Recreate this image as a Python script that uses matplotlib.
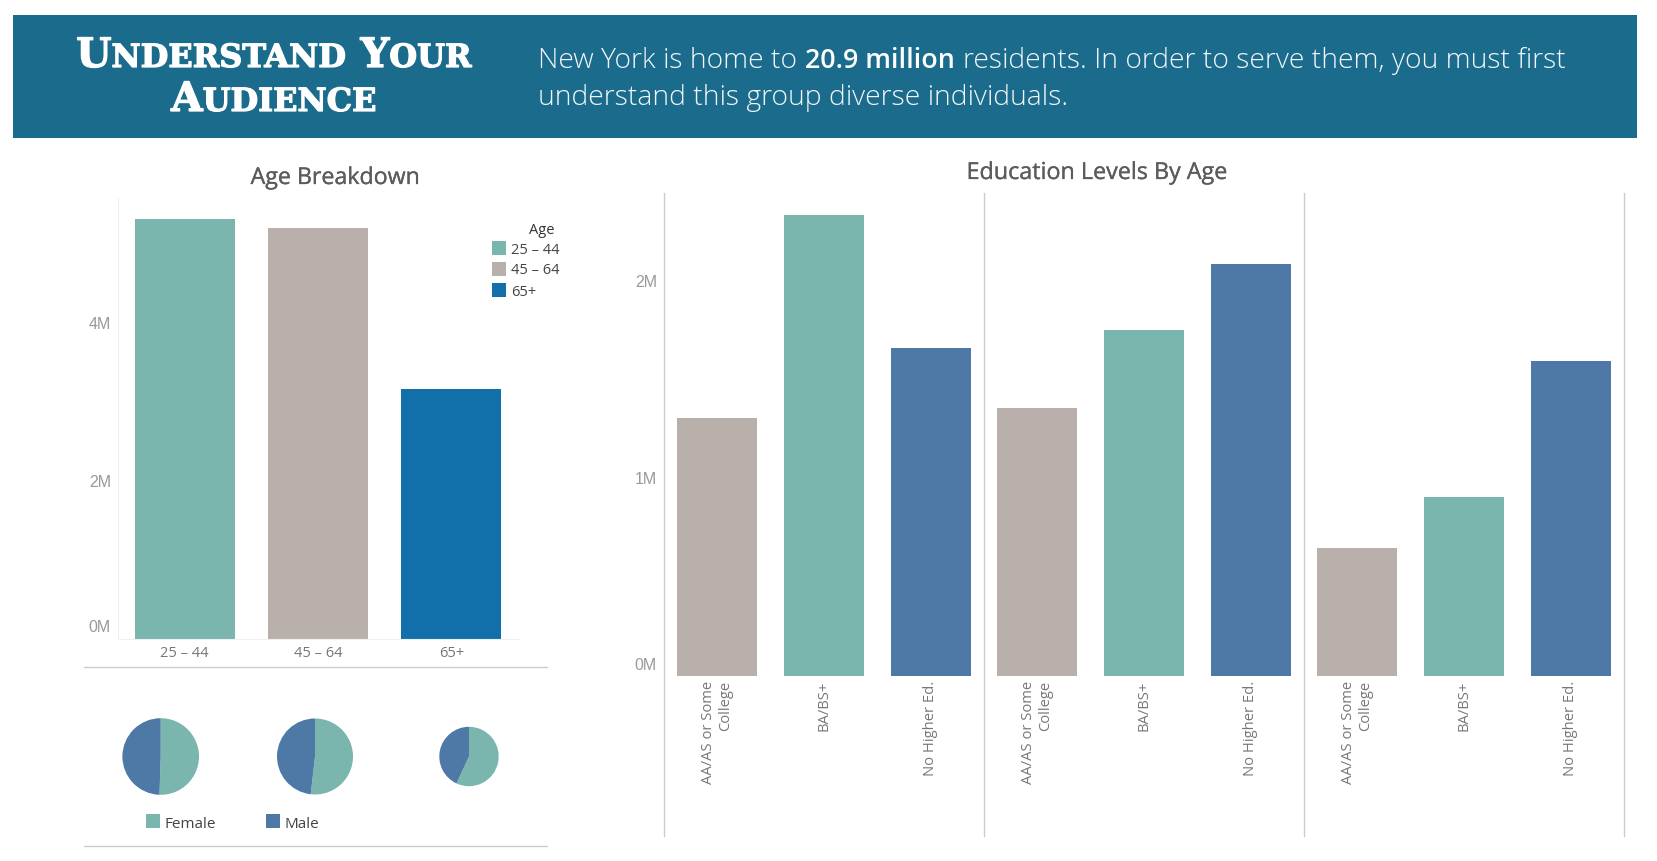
import matplotlib
matplotlib.use("Agg")
import matplotlib.pyplot as plt
import matplotlib.patheffects as pe
from matplotlib.patches import Rectangle

W, H = 1657, 861

TEAL = "#7AB5AE"
TAUPE = "#BAB0AB"
STEEL = "#4E79A7"
DEEP = "#1170AA"
BANNER = "#1A6B8C"
RULE = "#CCCCCC"

age_groups = ["25 – 44", "45 – 64", "65+"]
age_totals = [5.32, 5.20, 3.16]
age_colors = [TEAL, TAUPE, DEEP]
age_ticks = [0, 2, 4]

edu_levels = ["AA/AS or Some\nCollege", "BA/BS+", "No Higher Ed."]
edu_25_44 = [1.306, 2.332, 1.659]
edu_45_64 = [1.358, 1.753, 2.085]
edu_65 = [0.648, 0.905, 1.595]
edu_colors = [TAUPE, TEAL, STEEL]
edu_ticks = [0, 1, 2]

female_share = [0.505, 0.518, 0.569]
male_share = [0.495, 0.482, 0.431]

plt.rcParams["font.family"] = ["Open Sans", "DejaVu Sans"]
fig = plt.figure(figsize=(W / 100, H / 100), dpi=100)


def px_axes(left, top, right, bottom):
    a = fig.add_axes([left / W, 1 - bottom / H, (right - left) / W, (bottom - top) / H])
    a.patch.set_visible(False)
    return a


# overlay in pixel coordinates for the banner, rules and legends
ov = fig.add_axes([0, 0, 1, 1])
ov.set_xlim(0, W)
ov.set_ylim(H, 0)
ov.axis("off")


def pieces_width(pieces):
    rend = fig.canvas.get_renderer()
    total = 0
    for p in pieces:
        t = ov.text(0, 0, p["s"], **p["kw"])
        p["w"] = t.get_window_extent(rend).width
        t.remove()
        total += p["w"] + p.get("gap", 0)
    return total


def draw_pieces(x, y, pieces):
    for p in pieces:
        ov.text(x, y, p["s"], va="baseline", ha="left", **p["kw"])
        x += p["w"] + p.get("gap", 0)


def small_caps_line(cx, y, words):
    pieces = []
    thick = [pe.withStroke(linewidth=0.9, foreground="white")]
    big = dict(family="DejaVu Serif", fontweight="bold", color="white", fontsize=29.2, path_effects=thick)
    small = dict(family="DejaVu Serif", fontweight="bold", color="white", fontsize=23, path_effects=thick)
    for word in words:
        pieces.append({"s": word[0], "kw": big})
        pieces.append({"s": word[1:].upper(), "kw": small, "gap": 14})
    pieces[-1]["gap"] = 0
    total = pieces_width(pieces)
    draw_pieces(cx - total / 2, y, pieces)


def value_labels(axis_obj, ticks):
    # the 0M label sits above its tick, so it is placed by hand below
    labels = ["" if t == 0 else f"{t}M" for t in ticks]
    axis_obj.set_yticks(ticks, labels, family="Liberation Sans", color="#999999", fontsize=11.5)


ov.add_patch(Rectangle((13, 15), 1624, 123, color=BANNER, lw=0))
small_caps_line(274, 67, ["Understand", "Your"])
small_caps_line(274, 111, ["Audience"])

light = dict(color="#F2F6F8", fontsize=20.3, fontweight="light")
strong = dict(color="white", fontsize=19.4, fontweight="semibold")
line1 = [
    {"s": "New York is home to", "kw": light, "gap": 8},
    {"s": "20.9 million", "kw": strong, "gap": 8},
    {"s": "residents. In order to serve them, you must first", "kw": light},
]
pieces_width(line1)
draw_pieces(538, 68, line1)
ov.text(538, 105, "understand this group diverse individuals.", va="baseline", ha="left", **light)

title_fx = [pe.withStroke(linewidth=0.2, foreground="#5C5C5C")]
ov.text(335, 178, "Age Breakdown", ha="center", va="center", fontsize=16.7, color="#5C5C5C", path_effects=title_fx)
ov.text(1097, 173, "Education Levels By Age", ha="center", va="center", fontsize=16.8, color="#5C5C5C", path_effects=title_fx)

ov.plot([84, 547], [666.5, 666.5], color=RULE, lw=1)
ov.plot([84, 547], [846, 846], color=RULE, lw=1)

ov.text(110.5, 628, "0M", ha="right", va="center", family="Liberation Sans", color="#999999", fontsize=11.5)
ov.text(656.5, 665, "0M", ha="right", va="center", family="Liberation Sans", color="#999999", fontsize=11.5)

# age legend
ov.text(542, 231, "Age", ha="center", va="center", fontsize=10.5, color="#333333")
for i, (label, col) in enumerate(zip(age_groups, age_colors)):
    top = 241 + i * 21
    ov.add_patch(Rectangle((492, top), 14, 14, color=col, lw=0))
    ov.text(511, top + 9, label, va="center", fontsize=10.5, color="#444444")

# gender legend
for x0, label, col in [(146, "Female", TEAL), (266, "Male", STEEL)]:
    ov.add_patch(Rectangle((x0, 814), 14, 14, color=col, lw=0))
    ov.text(x0 + 19, 824, label, va="center", fontsize=11, color="#444444")

# age bars
ax = px_axes(118, 198, 518, 639)
ax.bar(range(3), age_totals, width=0.75, color=age_colors)
ax.set_xlim(-0.5, 2.5)
ax.set_ylim(0, 441 / 79)
ax.set_xticks(range(3), age_groups)
value_labels(ax, age_ticks)
ax.tick_params(axis="both", length=0)
ax.tick_params(axis="x", labelsize=10.5, labelcolor="#777777", pad=5)
ax.tick_params(axis="y", pad=5)
for s in ["top", "right"]:
    ax.spines[s].set_visible(False)
for s in ["left", "bottom"]:
    ax.spines[s].set_color("#F0F0F0")

# education bars, one pane per age group
ax2 = px_axes(664, 193, 1624, 676)
edu_values = edu_25_44 + edu_45_64 + edu_65
ax2.bar(range(9), edu_values, width=0.75, color=edu_colors * 3)
ax2.set_xlim(-0.5, 8.5)
ax2.set_ylim(0, 483 / 197.5)
ax2.set_xticks(range(9), edu_levels * 3, rotation=90, ha="center", va="top", multialignment="right")
value_labels(ax2, edu_ticks)
ax2.tick_params(axis="both", length=0)
ax2.tick_params(axis="x", labelsize=10.6, labelcolor="#777777", pad=3.5)
ax2.tick_params(axis="y", pad=5)
for s in ax2.spines.values():
    s.set_visible(False)
for x in [-0.5, 2.5, 5.5, 8.5]:
    ax2.plot([x, x], [-160 / 483, 1], transform=ax2.get_xaxis_transform(), color=RULE, lw=1, clip_on=False)

# gender pies, sized like the reference
pie_centers = [160.7, 315, 469]
pie_radius = [38.3, 38, 29.7]
for cx, r, f, m in zip(pie_centers, pie_radius, female_share, male_share):
    pax = px_axes(cx - r, 756.5 - r, cx + r, 756.5 + r)
    pax.pie([f, m], colors=[TEAL, STEEL], startangle=90, counterclock=False, radius=1)
    pax.set_xlim(-1, 1)
    pax.set_ylim(-1, 1)

fig.savefig("out.png", dpi=100)
